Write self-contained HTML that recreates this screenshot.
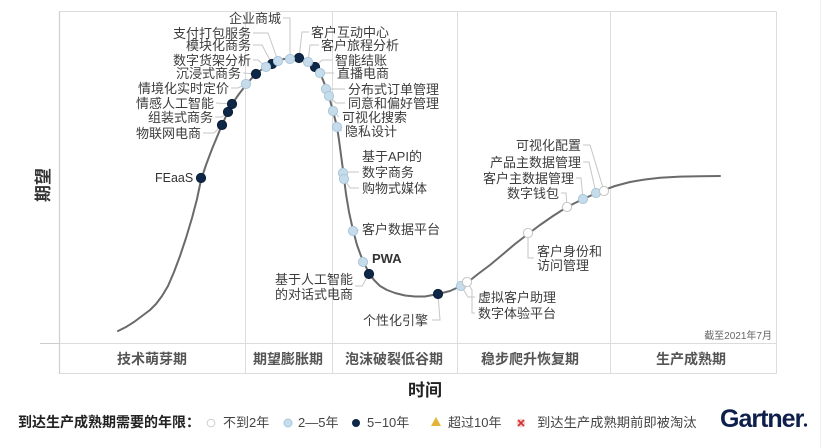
<!DOCTYPE html>
<html><head><meta charset="utf-8">
<style>
html,body{margin:0;padding:0;background:#fff;}
svg{display:block;}
text{font-family:"Liberation Sans","Noto Sans CJK SC",sans-serif;}
.lb{font-size:13px;fill:#3c3c3c;}
.ph{font-size:14px;fill:#555;font-weight:bold;}
.lg{font-size:13px;fill:#444;}
</style></head>
<body>
<svg width="829" height="448" viewBox="0 0 829 448" xmlns="http://www.w3.org/2000/svg">
<rect x="0" y="0" width="829" height="448" fill="#fff"/>
<line x1="820.5" y1="0" x2="820.5" y2="448" stroke="#eee" stroke-width="1"/>
<!-- frame -->
<g stroke="#dcdcdc" stroke-width="1" fill="none">
<line x1="59.5" y1="11.5" x2="776.5" y2="11.5"/>
<line x1="776.5" y1="11.5" x2="776.5" y2="373.5"/>
<line x1="59.5" y1="373.5" x2="776.5" y2="373.5"/>
<line x1="59.5" y1="343.5" x2="776.5" y2="343.5"/>
<line x1="245.5" y1="11.5" x2="245.5" y2="373.5"/>
<line x1="332.5" y1="11.5" x2="332.5" y2="373.5"/>
<line x1="457.5" y1="11.5" x2="457.5" y2="373.5"/>
<line x1="610.5" y1="11.5" x2="610.5" y2="373.5"/>
</g>
<line x1="59.5" y1="11" x2="59.5" y2="374" stroke="#cfcfcf" stroke-width="1.2"/>
<line x1="40" y1="343.5" x2="59" y2="343.5" stroke="#ccc" stroke-width="1"/>

<!-- axis labels -->
<text x="0" y="0" transform="translate(49,185) rotate(-90)" text-anchor="middle" style="font-size:17px;font-weight:bold;fill:#333;">期望</text>
<text x="425" y="396" text-anchor="middle" style="font-size:17px;font-weight:bold;fill:#222;">时间</text>

<!-- phase labels -->
<text class="ph" x="152" y="364" text-anchor="middle">技术萌芽期</text>
<text class="ph" x="288" y="364" text-anchor="middle">期望膨胀期</text>
<text class="ph" x="394" y="364" text-anchor="middle">泡沫破裂低谷期</text>
<text class="ph" x="530" y="364" text-anchor="middle">稳步爬升恢复期</text>
<text class="ph" x="691" y="364" text-anchor="middle">生产成熟期</text>
<text x="772" y="339" text-anchor="end" style="font-size:10px;fill:#666;">截至2021年7月</text>

<!-- leader lines -->
<g stroke="#c6c6c6" stroke-width="1" fill="none">
<polyline points="203,133 214,133 222,125"/>
<polyline points="215,117 222,117 228,112"/>
<polyline points="216,103 232,104"/>
<polyline points="231,88 238,88 246,84"/>
<polyline points="243,73 256,74"/>
<polyline points="253,60 258,60 266,67"/>
<polyline points="253,45 262,45 272,64"/>
<polyline points="253,33 268,33 278,61"/>
<polyline points="283,18 290,18 290,58"/>
<polyline points="309,32 302,32 299,58"/>
<polyline points="319,45 310,45 308,62"/>
<polyline points="332,60 322,60 315,67"/>
<polyline points="334,73 320,73"/>
<polyline points="345,89 326,89"/>
<polyline points="345,103 336,103 329,96"/>
<polyline points="339,117 333,111"/>
<polyline points="342,131 337,127"/>
<polyline points="359,172 350,172 343,173"/>
<polyline points="359,188 350,188 344,179"/>
<polyline points="359,230 353,231"/>
<polyline points="355,286 362,286 369,274"/>
<polyline points="432,320 440,320 438,294"/>
<polyline points="475,297 468,297 461,286"/>
<polyline points="475,313 472,313 472,290 467,282"/>
<polyline points="534,258 528,258 528,233"/>
<polyline points="583,145 590,145 604,191"/>
<polyline points="583,162 589,162 596,193"/>
<polyline points="576,178 581,178 583,199"/>
<polyline points="561,193 566,193 567,207"/>
</g>

<!-- curve -->
<polyline fill="none" stroke="#6a6a6a" stroke-width="2" stroke-linejoin="round" stroke-linecap="round" points="118,331 126,327 134,322 142,316 150,310 156,304 162,296 168,286 174,272 180,256 186,238 192,218 197,199 201,180 206,165 212,149 217,137 222,125 227,114 232,104 239,94 246,85 251,79 256,74 261,70 266,66 272,63 278,60.5 284,59 290,58 295,57.5 299,57.7 304,59 308,61 312,64 315,67 318,70 320,73 323,80 326,88 329,96 331,104 333,111 335,119 337,127 339,140 341,155 343,170 344,178 346,194 349,212 353,230 357,245 361,256 365,265 369,273 374,280 380,286 387,290 395,293 405,295.5 415,296.5 425,296.5 438,294 450,291 461,286 468,282 478,274 490,265 502,255 515,244 528,234 540,225 553,216 567,207 575,203 583,199 590,196 596,193 604,190 615,186 630,182 645,179.5 660,177.8 680,176.6 700,176.2 720,176"/>

<!-- dots -->
<g stroke-width="1">
<g fill="#0f2747" stroke="#0a1d38">
<circle cx="201" cy="178" r="4.6"/>
<circle cx="222" cy="125" r="4.6"/>
<circle cx="228" cy="112" r="4.6"/>
<circle cx="232" cy="104" r="4.6"/>
<circle cx="256" cy="74" r="4.6"/>
<circle cx="272" cy="64" r="4.6"/>
<circle cx="299" cy="58" r="4.6"/>
<circle cx="315" cy="67" r="4.6"/>
<circle cx="369" cy="274" r="4.6"/>
<circle cx="438" cy="294" r="4.6"/>
</g>
<g fill="#c6dceb" stroke="#a9c7dc">
<circle cx="246" cy="84" r="4.6"/>
<circle cx="266" cy="67" r="4.6"/>
<circle cx="278" cy="61" r="4.6"/>
<circle cx="290" cy="59" r="4.6"/>
<circle cx="308" cy="62" r="4.6"/>
<circle cx="320" cy="73" r="4.6"/>
<circle cx="326" cy="89" r="4.6"/>
<circle cx="329" cy="96" r="4.6"/>
<circle cx="333" cy="111" r="4.6"/>
<circle cx="337" cy="127" r="4.6"/>
<circle cx="343" cy="173" r="4.6"/>
<circle cx="344" cy="179" r="4.6"/>
<circle cx="353" cy="231" r="4.6"/>
<circle cx="363" cy="262" r="4.6"/>
<circle cx="461" cy="286" r="4.6"/>
<circle cx="583" cy="199" r="4.6"/>
<circle cx="596" cy="193" r="4.6"/>
</g>
<g fill="#ffffff" stroke="#c4c4c4">
<circle cx="467" cy="282" r="4.6"/>
<circle cx="528" cy="233" r="4.6"/>
<circle cx="567" cy="207" r="4.6"/>
<circle cx="604" cy="191" r="4.6"/>
</g>
</g>

<!-- labels left of peak -->
<g class="lb" text-anchor="end">
<text x="281" y="23">企业商城</text>
<text x="251" y="38">支付打包服务</text>
<text x="251" y="50">模块化商务</text>
<text x="251" y="65">数字货架分析</text>
<text x="241" y="78">沉浸式商务</text>
<text x="229" y="93">情境化实时定价</text>
<text x="214" y="108">情感人工智能</text>
<text x="213" y="122">组装式商务</text>
<text x="201" y="138">物联网电商</text>
</g>
<text x="155" y="182" style="font-size:12.5px;fill:#333;">FEaaS</text>
<!-- labels right of peak -->
<g class="lb">
<text x="311" y="37">客户互动中心</text>
<text x="321" y="50">客户旅程分析</text>
<text x="335" y="65">智能结账</text>
<text x="337" y="78">直播电商</text>
<text x="348" y="94">分布式订单管理</text>
<text x="348" y="108">同意和偏好管理</text>
<text x="342" y="122">可视化搜索</text>
<text x="345" y="136">隐私设计</text>
<text x="362" y="161">基于API的</text>
<text x="362" y="177">数字商务</text>
<text x="362" y="193">购物式媒体</text>
<text x="362" y="234">客户数据平台</text>
<text x="363" y="325">个性化引擎</text>
<text x="478" y="302">虚拟客户助理</text>
<text x="478" y="318">数字体验平台</text>
<text x="537" y="256">客户身份和</text>
<text x="537" y="270">访问管理</text>
</g>
<text x="372" y="263" style="font-size:13px;fill:#333;font-weight:bold;">PWA</text>
<g class="lb" text-anchor="end">
<text x="353" y="284">基于人工智能</text>
<text x="353" y="299">的对话式电商</text>
<text x="581" y="150">可视化配置</text>
<text x="581" y="167">产品主数据管理</text>
<text x="574" y="183">客户主数据管理</text>
<text x="559" y="198">数字钱包</text>
</g>

<!-- legend -->
<text x="18" y="427" style="font-size:14px;font-weight:bold;fill:#222;">到达生产成熟期需要的年限：</text>
<circle cx="211" cy="423" r="3.8" fill="#fff" stroke="#cfcfcf" stroke-width="1"/>
<text class="lg" x="223" y="427">不到2年</text>
<circle cx="288" cy="423" r="4" fill="#c6dceb" stroke="#a9c7dc" stroke-width="1"/>
<text class="lg" x="298" y="427">2—5年</text>
<circle cx="356" cy="423" r="4" fill="#0f2747"/>
<text class="lg" x="367" y="427">5−10年</text>
<polygon points="436,417 441,426 431,426" fill="#e2b53a"/>
<text class="lg" x="448" y="427">超过10年</text>
<circle cx="521" cy="423" r="4.5" fill="#f6d4d4"/>
<path d="M518,420 L524,426 M524,420 L518,426" stroke="#d03030" stroke-width="1.6"/>
<text class="lg" x="537" y="427" style="font-size:13.3px;">到达生产成熟期前即被淘汰</text>
<text x="720" y="427" style="font-size:25px;font-weight:bold;fill:#0d1f4a;letter-spacing:-1px;">Gartner</text>
<circle cx="805.5" cy="425" r="1.6" fill="#0d1f4a"/>
</svg>
</body></html>
